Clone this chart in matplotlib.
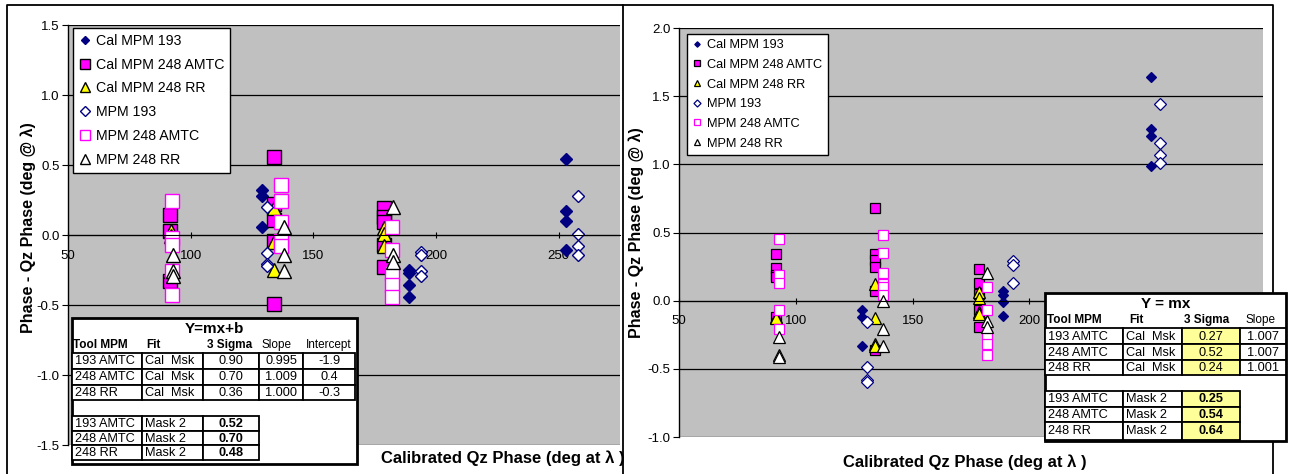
import numpy as np
import matplotlib.pyplot as plt
from matplotlib.patches import Rectangle
from matplotlib.transforms import Bbox

plt.rcParams['font.family'] = ['Liberation Sans', 'DejaVu Sans']

series_names = ["Cal MPM 193", "Cal MPM 248 AMTC", "Cal MPM 248 RR",
                "MPM 193", "MPM 248 AMTC", "MPM 248 RR"]

# ---- left chart (Y=mx+b) ----
L_cal193_x = [129, 129, 129, 189, 189, 189, 189, 253, 253, 253, 253]
L_cal193_y = [0.32, 0.28, 0.06, -0.25, -0.27, -0.36, -0.44, 0.54, 0.17, 0.10, -0.11]
L_cal248a_x = [91.5, 91.5, 91.5, 134, 134, 134, 134, 134, 179, 179, 179, 179, 179]
L_cal248a_y = [0.14, 0.03, -0.33, 0.56, 0.22, 0.11, -0.04, -0.49, 0.19, 0.13, 0.09, -0.07, -0.23]
L_cal248rr_x = [92, 92, 92, 134, 134, 134, 179, 179, 179]
L_cal248rr_y = [0.03, -0.01, -0.26, 0.19, -0.05, -0.25, 0.05, 0.01, -0.08]
L_mpm193_x = [131, 131, 131, 131, 194, 194, 194, 194, 258, 258, 258, 258]
L_mpm193_y = [0.20, -0.13, -0.21, -0.22, -0.12, -0.14, -0.26, -0.29, 0.28, 0.01, -0.08, -0.14]
L_mpm248a_x = [92.5] * 5 + [137] * 5 + [182] * 5
L_mpm248a_y = [0.24, -0.02, -0.07, -0.26, -0.43, 0.36, 0.24, 0.09, -0.04, -0.08,
               0.06, -0.11, -0.27, -0.36, -0.44]
L_mpm248rr_x = [93, 93, 93, 138, 138, 138, 182.5, 182.5, 182.5]
L_mpm248rr_y = [-0.14, -0.26, -0.29, 0.06, -0.14, -0.26, 0.20, -0.14, -0.19]

# ---- right chart (Y = mx) ----
R_cal193_x = [128.5] * 3 + [188.5] * 4 + [252] * 4
R_cal193_y = [-0.07, -0.12, -0.33, 0.07, 0.04, -0.01, -0.11, 1.64, 1.26, 1.21, 0.99]
R_cal248a_x = [91.5] * 5 + [134] * 6 + [178.5] * 5
R_cal248a_y = [0.34, 0.24, 0.19, 0.17, -0.12, 0.68, 0.34, 0.30, 0.25, 0.07, -0.36,
               0.23, 0.13, 0.05, -0.07, -0.19]
R_cal248rr_x = [91.5] * 2 + [134] * 4 + [178.5] * 4
R_cal248rr_y = [-0.12, -0.13, 0.12, -0.13, -0.32, -0.33, 0.06, 0.02, -0.08, -0.10]
R_mpm193_x = [130.5] * 4 + [193] * 3 + [256] * 4
R_mpm193_y = [-0.16, -0.49, -0.58, -0.60, 0.29, 0.26, 0.13, 1.44, 1.16, 1.07, 1.01]
R_mpm248a_x = [93] * 5 + [137.5] * 6 + [182] * 5
R_mpm248a_y = [0.45, 0.19, 0.13, -0.07, -0.21, 0.48, 0.35, 0.20, 0.12, 0.10, 0.04,
               0.10, -0.07, -0.25, -0.32, -0.40]
R_mpm248rr_x = [93] * 3 + [137.5] * 3 + [182] * 3
R_mpm248rr_y = [-0.27, -0.40, -0.41, 0.0, -0.21, -0.33, 0.20, -0.15, -0.19]

# x tick labels (the right chart's 250/300 sit under the table)
L_xticklabels = ["50", "100", "150", "200", "250"]
R_xticklabels = ["50", "100", "150", "200", "", ""]

# ---- tables ----
tab_header = ["Tool MPM", "Fit", "3 Sigma", "Slope", "Intercept"]
tab_tools = ["193 AMTC", "248 AMTC", "248 RR"]
tab_fit = ["Cal  Msk", "Cal  Msk", "Cal  Msk"]
tab_fit2 = ["Mask 2", "Mask 2", "Mask 2"]
L_sigma = ["0.90", "0.70", "0.36"]
L_slope = ["0.995", "1.009", "1.000"]
L_icpt = ["-1.9", "0.4", "-0.3"]
L_mask_sigma = ["0.52", "0.70", "0.48"]
R_sigma = ["0.27", "0.52", "0.24"]
R_slope = ["1.007", "1.007", "1.001"]
R_mask_sigma = ["0.25", "0.54", "0.64"]

styles = [
    dict(marker='D', mfc='#000080', mec='#000080'),
    dict(marker='s', mfc='#FF00FF', mec='#000000'),
    dict(marker='^', mfc='#FFFF00', mec='#000000'),
    dict(marker='D', mfc='white', mec='#000080'),
    dict(marker='s', mfc='white', mec='#FF00FF'),
    dict(marker='^', mfc='white', mec='#000000'),
]

W, H = 1289, 474
fig = plt.figure(figsize=(W / 100, H / 100), dpi=100)


def px_axes(x0, y0, x1, y1):
    return fig.add_axes([x0 / W, (H - y1) / H, (x1 - x0) / W, (y1 - y0) / H])


def setup(ax, xlim, ylim, yticks, xlabels):
    ax.set_facecolor('#C0C0C0')
    ax.set_xlim(*xlim)
    ax.set_ylim(*ylim)
    ax.set_xticks(np.arange(50, xlim[1] + 1, 50))
    ax.set_xticklabels(xlabels)
    ax.set_yticks(yticks)
    ax.set_yticklabels(['%.1f' % v for v in yticks])
    ax.yaxis.grid(True, color='black', lw=0.9)
    ax.set_axisbelow(True)
    for s in ['top', 'right']:
        ax.spines[s].set_visible(False)
    ax.spines['bottom'].set_position(('data', 0))
    ax.spines['left'].set_linewidth(1.0)
    ax.tick_params(axis='x', direction='inout', length=5, pad=8, labelsize=9.5)
    ax.tick_params(axis='y', direction='out', length=4, pad=2, labelsize=9.5)


def draw_series(ax, data, sizes, mew):
    for (xs, ys), st, sz, name in zip(data, styles, sizes, series_names):
        ax.plot(xs, ys, linestyle='none', ms=sz, mew=mew, label=name, **st)


# left chart
axL = px_axes(68, 25, 620, 445)
setup(axL, (50, 275), (-1.5, 1.5), np.arange(-1.5, 1.51, 0.5), L_xticklabels)
draw_series(axL, [(L_cal193_x, L_cal193_y), (L_cal248a_x, L_cal248a_y),
                  (L_cal248rr_x, L_cal248rr_y), (L_mpm193_x, L_mpm193_y),
                  (L_mpm248a_x, L_mpm248a_y), (L_mpm248rr_x, L_mpm248rr_y)],
            [6, 9.4, 10, 6.5, 9.4, 10], 1.0)
legL = axL.legend(loc='upper left', bbox_to_anchor=(0.009, 0.993), borderaxespad=0,
                  fontsize=10.2, markerscale=0.75, handlelength=0.9, handletextpad=0.3,
                  labelspacing=0.7, borderpad=0.4, fancybox=False, framealpha=1,
                  edgecolor='black', numpoints=1)
legL.get_frame().set_linewidth(1.0)

# right chart
axR = px_axes(679, 28, 1263, 437)
setup(axR, (50, 300), (-1.0, 2.0), np.arange(-1.0, 2.01, 0.5), R_xticklabels)
draw_series(axR, [(R_cal193_x, R_cal193_y), (R_cal248a_x, R_cal248a_y),
                  (R_cal248rr_x, R_cal248rr_y), (R_mpm193_x, R_mpm193_y),
                  (R_mpm248a_x, R_mpm248a_y), (R_mpm248rr_x, R_mpm248rr_y)],
            [4.6, 7.2, 8, 6, 7.2, 8], 0.9)
legR = axR.legend(loc='upper left', bbox_to_anchor=(0.0137, 0.985), borderaxespad=0,
                  fontsize=9.2, markerscale=0.6, handlelength=0.8, handletextpad=0.4,
                  labelspacing=0.6, borderpad=0.4, fancybox=False, framealpha=1,
                  edgecolor='black', numpoints=1)
legR.get_frame().set_linewidth(1.0)

# overlay in pixel coordinates for borders, labels and tables
ov = fig.add_axes([0, 0, 1, 1])
ov.set_xlim(0, W)
ov.set_ylim(H, 0)
ov.axis('off')
ov.set_zorder(5)

ov.plot([7, 7, 623, 623], [H, 5, 5, H], color='black', lw=1.3)
ov.plot([623, 1273, 1273], [5, 5, H], color='black', lw=1.3)

ov.text(28, 228, "Phase - Qz Phase (deg @ \u03bb)", rotation=90, ha='center', va='center',
        fontsize=11.5, weight='bold')
ov.text(636, 233, "Phase - Qz Phase (deg @ \u03bb)", rotation=90, ha='center', va='center',
        fontsize=11.5, weight='bold')
t = ov.text(381, 458, "Calibrated Qz Phase (deg at \u03bb )", ha='left', va='center',
            fontsize=12, weight='bold')
t.set_clip_box(Bbox.from_extents(0, 0, 622, H))
ov.text(843, 462, "Calibrated Qz Phase (deg at \u03bb )", ha='left', va='center',
        fontsize=12, weight='bold')


def cell(x0, x1, y0, y1, text, ha='center', bold=False, face='white'):
    ov.add_patch(Rectangle((x0, y0), x1 - x0, y1 - y0, facecolor=face,
                           edgecolor='black', lw=1.3, zorder=3))
    tx = x0 + 3 if ha == 'left' else (x0 + x1) / 2
    ov.text(tx, (y0 + y1) / 2 + 0.5, text, ha=ha, va='center', fontsize=9.2,
            weight='bold' if bold else 'normal', zorder=4)


def table(box, xs, title, cols, head_x, rows_a, rows_b, cols_a, cols_b, fill):
    x0, y0, x1, y1 = box
    ov.add_patch(Rectangle((x0, y0), x1 - x0, y1 - y0, facecolor='white',
                           edgecolor='black', lw=2, zorder=2))
    ov.text((x0 + x1) / 2, y0 + 11, title, ha='center', va='center', fontsize=11,
            weight='bold', zorder=4)
    for i, (lab, hx) in enumerate(zip(cols, head_x)):
        ov.text(hx, y0 + 27, lab, ha='left', va='center', fontsize=8.5,
                weight='bold' if i < 3 else 'normal', zorder=4)
    for r in range(3):
        for c, txt in enumerate(cols_a):
            cell(xs[c], xs[c + 1], rows_a[r], rows_a[r + 1], txt[r],
                 ha='left' if c < 2 else 'center', face=fill if c == 2 else 'white')
    for r in range(3):
        for c, txt in enumerate(cols_b):
            cell(xs[c], xs[c + 1], rows_b[r], rows_b[r + 1], txt[r],
                 ha='left' if c < 2 else 'center', bold=(c == 2),
                 face=fill if c == 2 else 'white')


table((72, 318, 357, 464), [72, 142, 203, 259, 303, 355], "Y=mx+b", tab_header,
      [73, 146, 207, 261, 306],
      [353, 369, 385, 400], [416, 431, 445, 460],
      [tab_tools, tab_fit, L_sigma, L_slope, L_icpt],
      [tab_tools, tab_fit2, L_mask_sigma], 'white')

table((1045, 293, 1286, 441), [1045, 1123, 1182, 1240, 1286], "Y = mx", tab_header[:4],
      [1047, 1129, 1184, 1245],
      [328, 344, 360, 375], [391, 407, 422, 440],
      [tab_tools, tab_fit, R_sigma, R_slope],
      [tab_tools, tab_fit2, R_mask_sigma], '#FFFF99')

fig.savefig('out.png', dpi=100)
